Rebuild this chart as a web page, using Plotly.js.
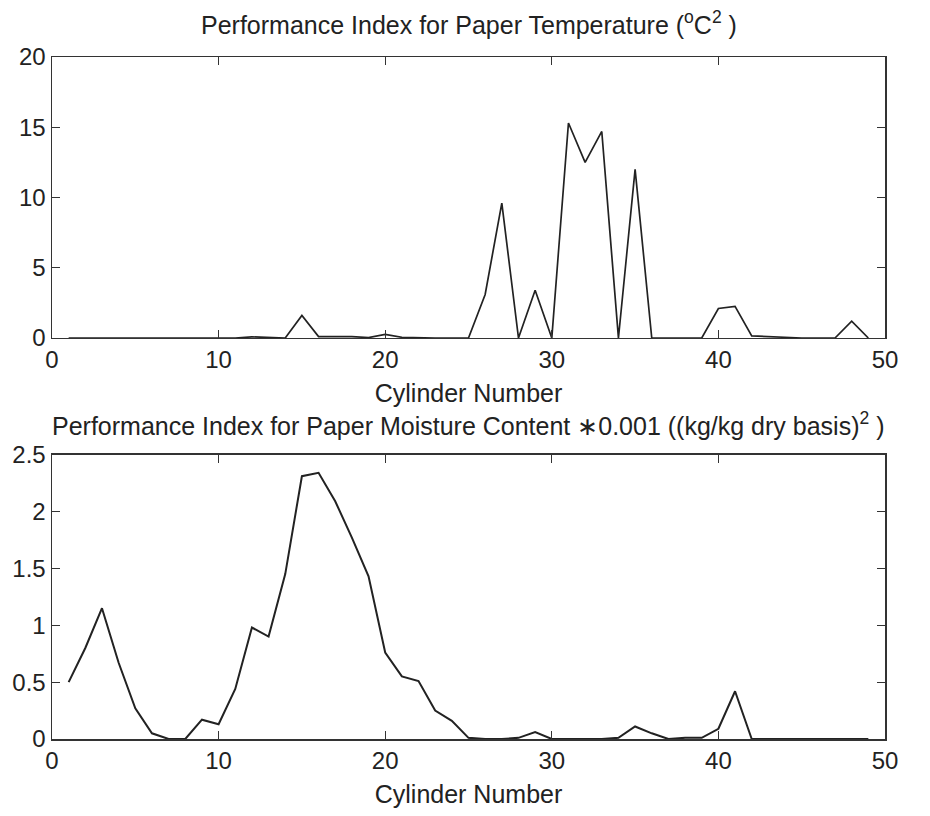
<!DOCTYPE html>
<html>
<head>
<meta charset="utf-8">
<script src="https://cdn.plot.ly/plotly-3.0.1.min.js"></script>
<style>
  html, body { margin: 0; padding: 0; background: #fff; }
  #chart { width: 930px; height: 816px; }
</style>
</head>
<body>
<div id="chart"></div>
<script>
// Cylinder numbers
const cylinders = [1,2,3,4,5,6,7,8,9,10,11,12,13,14,15,16,17,18,19,20,21,22,23,24,25,26,27,28,29,30,31,32,33,34,35,36,37,38,39,40,41,42,43,44,45,46,47,48,49];

// Performance index for paper temperature (°C^2)
const tempIndex = [0,0,0,0,0,0,0,0,0,0,0,0.08,0.02,0,1.6,0.1,0.1,0.1,0.03,0.25,0.05,0,0,0,0,3.1,9.6,0,3.4,0,15.3,12.5,14.7,0,12,0,0,0,0,2.1,2.25,0.15,0.1,0,0,0,0,1.2,0];

// Performance index for paper moisture content *0.001 ((kg/kg dry basis)^2)
const moistIndex = [0.5,0.8,1.15,0.67,0.27,0.05,0,0,0.17,0.13,0.44,0.98,0.9,1.45,2.31,2.34,2.09,1.77,1.43,0.76,0.55,0.51,0.25,0.16,0.01,0,0,0.01,0.06,0,0,0,0,0.01,0.11,0.05,0,0.01,0.01,0.09,0.42,0,0,0,0,0,0,0,0];

const xTicks = [0,10,20,30,40,50];
const tempTicks = [0,5,10,15,20];
const moistTicks = [0,0.5,1,1.5,2,2.5];

const topTitle = 'Performance Index for Paper Temperature (<sup>o</sup>C<sup>2</sup> )';
const bottomTitle = 'Performance Index for Paper Moisture Content \u22170.001 ((kg/kg dry basis)<sup>2</sup> )';
const xTitle = 'Cylinder Number';

const FONT = 'Liberation Sans, Arial, sans-serif';
const INK = '#222';

const traces = [
  { x: cylinders, y: tempIndex, type: 'scatter', mode: 'lines',
    line: { color: INK, width: 1.7 }, xaxis: 'x', yaxis: 'y', showlegend: false },
  { x: cylinders, y: moistIndex, type: 'scatter', mode: 'lines',
    line: { color: INK, width: 2 }, xaxis: 'x2', yaxis: 'y2', showlegend: false }
];

const axBase = {
  showline: true, linecolor: '#333', linewidth: 1.5, mirror: 'ticks',
  ticks: 'inside', ticklen: 8, tickwidth: 1.2, tickcolor: '#333',
  showgrid: false, zeroline: false,
  tickfont: { family: FONT, size: 24, color: INK }
};

const layout = {
  width: 930, height: 816,
  paper_bgcolor: '#fff', plot_bgcolor: '#fff',
  margin: { l: 52, r: 45, t: 57, b: 77 },
  font: { family: FONT, color: INK },
  xaxis: Object.assign({}, axBase, {
    domain: [0, 1], anchor: 'y', range: [0, 50], tickvals: xTicks,
    title: { text: xTitle, font: { family: FONT, size: 25, color: INK }, standoff: 12 }
  }),
  yaxis: Object.assign({}, axBase, {
    domain: [0.588, 1], anchor: 'x', range: [0, 20], tickvals: tempTicks
  }),
  xaxis2: Object.assign({}, axBase, {
    domain: [0, 1], anchor: 'y2', range: [0, 50], tickvals: xTicks,
    title: { text: xTitle, font: { family: FONT, size: 25, color: INK }, standoff: 12 }
  }),
  yaxis2: Object.assign({}, axBase, {
    domain: [0, 0.417], anchor: 'x2', range: [0, 2.5], tickvals: moistTicks
  }),
  annotations: [
    { text: topTitle, xref: 'paper', yref: 'paper', x: 0.5, y: 1.05,
      xanchor: 'center', yanchor: 'middle', showarrow: false,
      font: { family: FONT, size: 25, color: INK } },
    { text: bottomTitle, xref: 'paper', yref: 'paper', x: 0.5, y: 0.462,
      xanchor: 'center', yanchor: 'middle', showarrow: false,
      font: { family: FONT, size: 25, color: INK } }
  ]
};

Plotly.newPlot('chart', traces, layout, { staticPlot: true, displayModeBar: false });
</script>
</body>
</html>
